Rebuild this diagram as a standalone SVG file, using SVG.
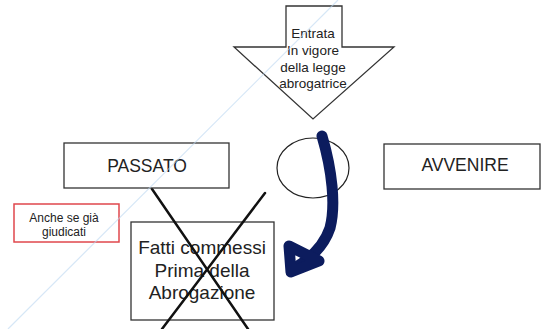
<svg xmlns="http://www.w3.org/2000/svg" width="541" height="329" viewBox="0 0 541 329">
<style>
.box{fill:#fff;stroke:#333;stroke-width:1.3}
.t{font-family:"Liberation Sans",Arial,sans-serif;fill:#222;text-anchor:middle}
.x{stroke:#111;stroke-width:2.5;stroke-linecap:round}
.blue{fill:none;stroke:#0c1c5e;stroke-width:11;stroke-linecap:round;stroke-linejoin:round}
</style>
<rect width="541" height="329" fill="#fff"/>
<g id="entrata">
<polygon class="box" points="286,6 342,6 342,47 394,47 313,119 234,47 286,47"/>
<text class="t" font-size="13.5"><tspan x="313" y="38">Entrata</tspan><tspan x="313" y="55">In vigore</tspan><tspan x="313" y="72">della legge</tspan><tspan x="313" y="88">abrogatrice</tspan></text>
</g>
<g id="fatti">
<rect class="box" x="131" y="222" width="143" height="98"/>
<text class="t" font-size="19"><tspan x="202" y="254">Fatti commessi</tspan><tspan x="202" y="277">Prima della</tspan><tspan x="202" y="299">Abrogazione</tspan></text>
</g>
<g id="cerchio">
<ellipse cx="313" cy="168" rx="36" ry="30" fill="none" stroke="#222" stroke-width="1.2"/>
</g>
<g id="connectors">
<line class="x" x1="152" y1="189" x2="248" y2="329"/>
<line class="x" x1="265" y1="193" x2="162" y2="329"/>
<path class="blue" d="M322,136 C332,170 336,205 330,228 C324,246 312,257 298,266"/>
<polygon class="blue" fill="#0c1c5e" points="289,246 291,272 319,261"/>
</g>
<g id="passato">
<rect class="box" x="64" y="143" width="165" height="45"/>
<text class="t" x="147" y="172" font-size="17.5">PASSATO</text>
</g>
<g id="avvenire">
<rect class="box" x="384" y="144" width="156" height="45"/>
<text class="t" x="465" y="171" font-size="17.5">AVVENIRE</text>
</g>
<g id="anche">
<rect x="14" y="204" width="105" height="38" fill="#fff" stroke="#e0474c" stroke-width="1.5"/>
<text class="t" font-size="12"><tspan x="64" y="222">Anche se già</tspan><tspan x="64" y="236">giudicati</tspan></text>
</g>
<line x1="338" y1="0" x2="8" y2="329" stroke="#bcd8f2" stroke-width="1.2" opacity="0.6"/>
</svg>
